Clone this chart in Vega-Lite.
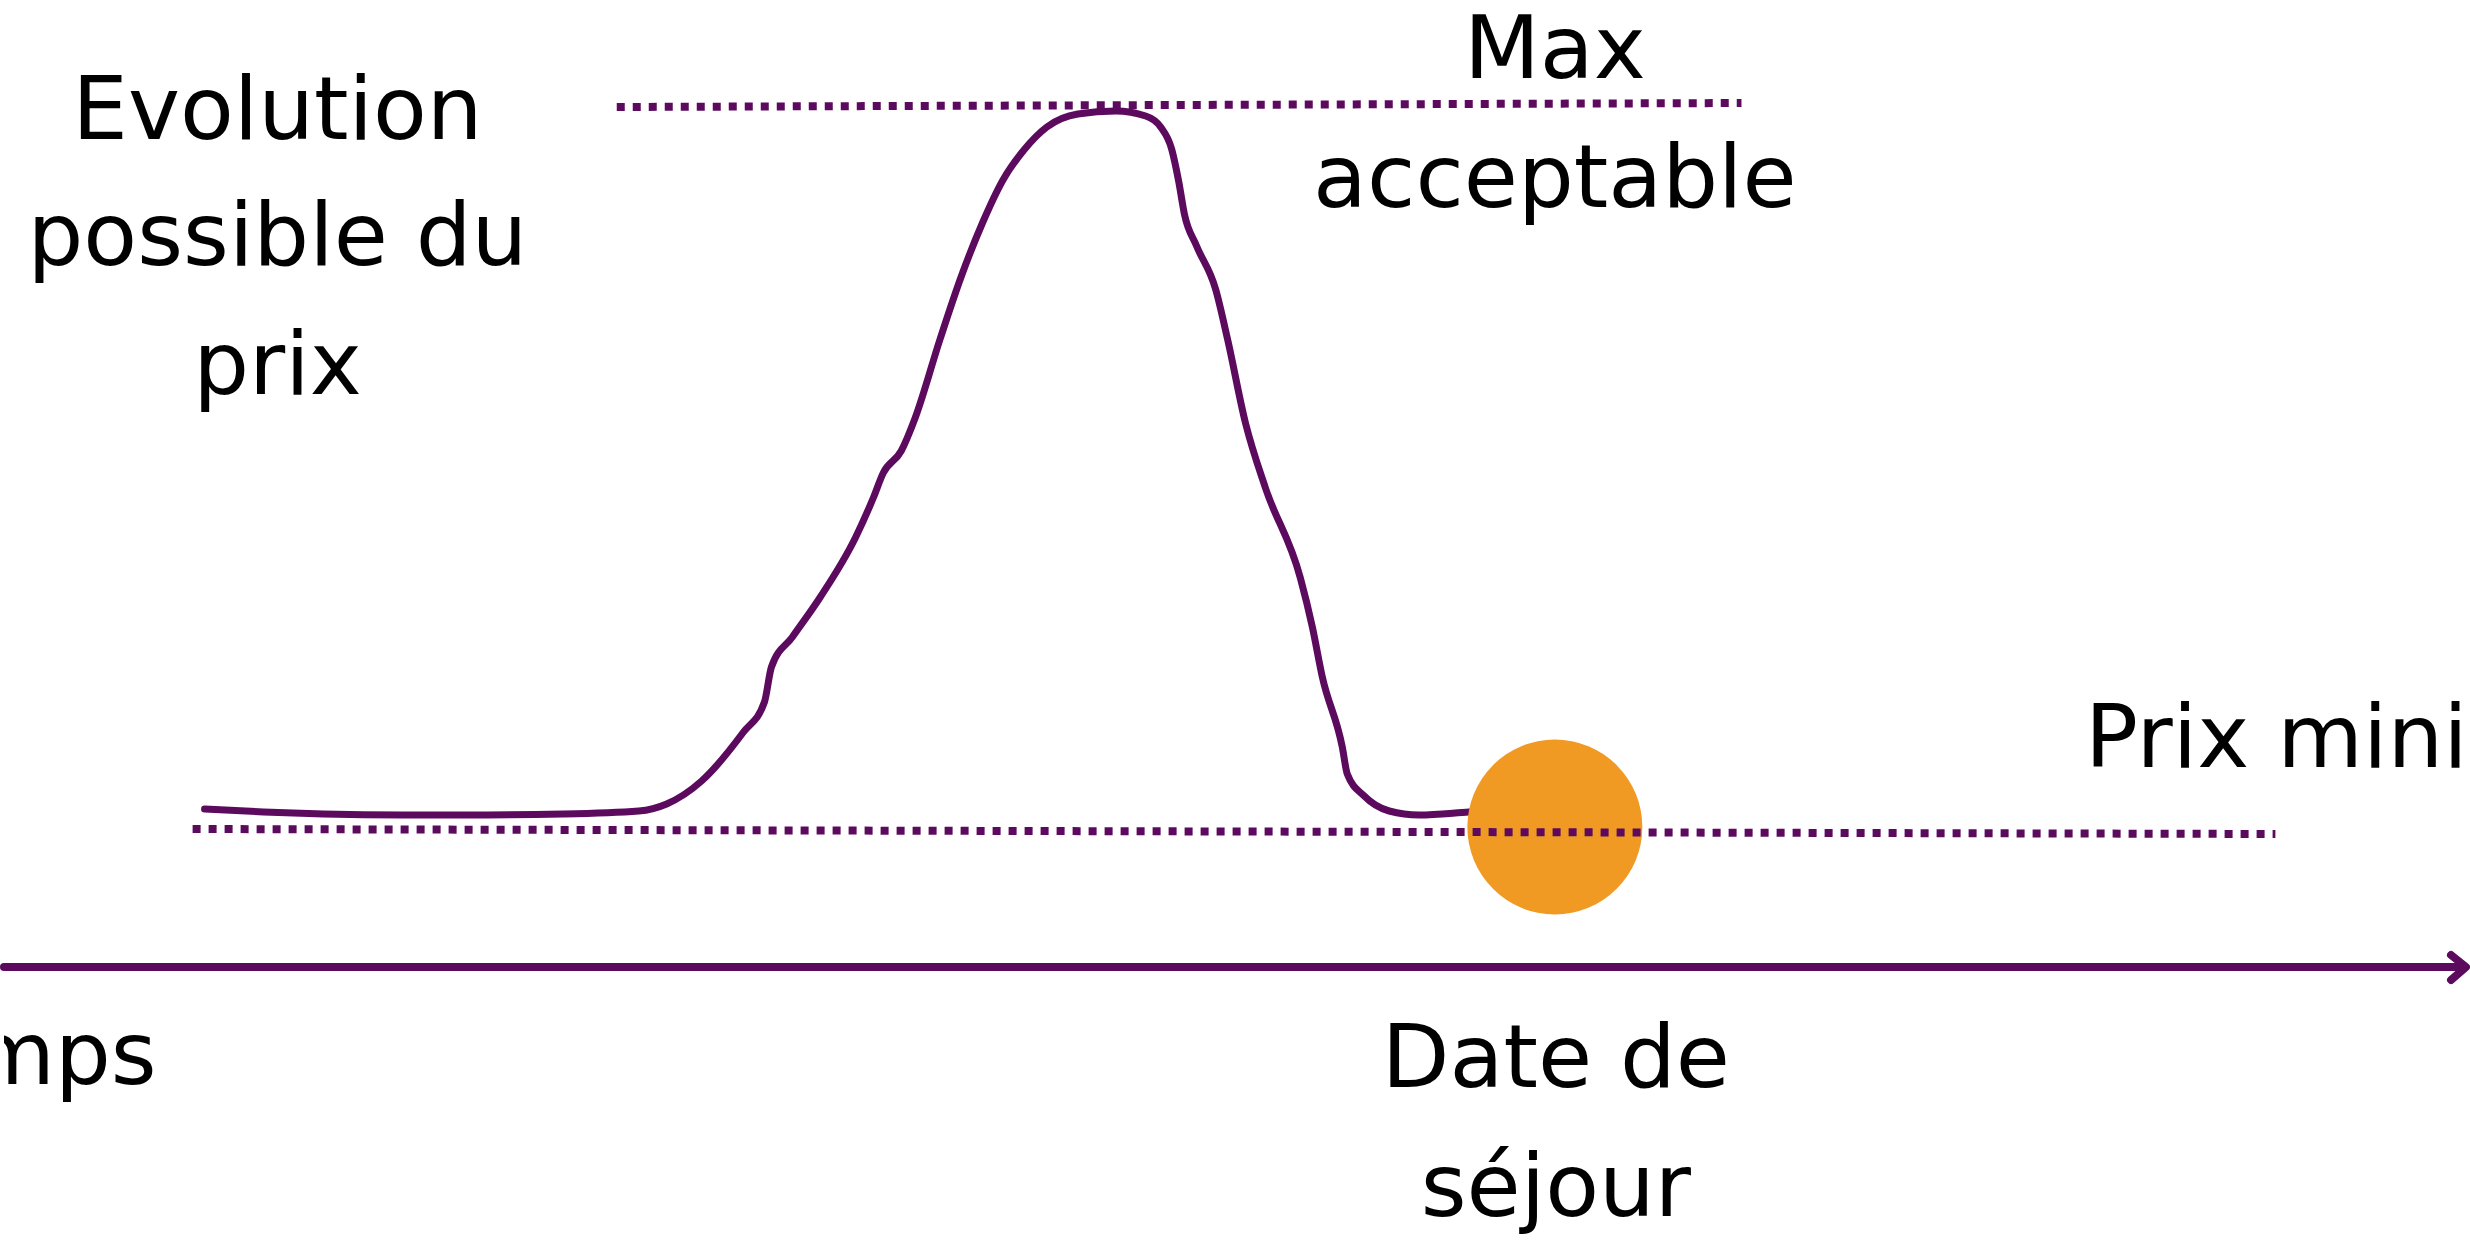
{
  "$schema": "https://vega.github.io/schema/vega-lite/v6.json",
  "width": 2470,
  "height": 1241,
  "padding": 0,
  "autosize": {"type": "fit", "contains": "padding"},
  "background": "white",
  "config": {"view": {"stroke": null}},
  "datasets": {
    "curve": [
      {"t": 20.1, "price": 43.2}, {"t": 26.0, "price": 42.9}, {"t": 32.0, "price": 42.7},
      {"t": 40.0, "price": 42.6}, {"t": 46.1, "price": 42.6}, {"t": 56.0, "price": 42.7},
      {"t": 63.6, "price": 43.0}, {"t": 66.4, "price": 43.7}, {"t": 69.9, "price": 46.0},
      {"t": 74.1, "price": 50.9}, {"t": 76.2, "price": 53.9}, {"t": 76.9, "price": 57.4},
      {"t": 79.0, "price": 60.4}, {"t": 81.8, "price": 64.4}, {"t": 85.3, "price": 70.3},
      {"t": 87.1, "price": 74.3}, {"t": 88.1, "price": 76.8}, {"t": 89.9, "price": 79.0},
      {"t": 91.3, "price": 82.3}, {"t": 93.8, "price": 90.2}, {"t": 95.9, "price": 96.4},
      {"t": 98.0, "price": 101.7}, {"t": 100.1, "price": 106.1}, {"t": 102.2, "price": 109.1},
      {"t": 104.5, "price": 111.4}, {"t": 107.6, "price": 112.7}, {"t": 111.4, "price": 113.0},
      {"t": 114.4, "price": 112.5}, {"t": 115.9, "price": 111.4}, {"t": 117.0, "price": 109.2},
      {"t": 117.7, "price": 106.0}, {"t": 118.3, "price": 102.6}, {"t": 119.5, "price": 99.5},
      {"t": 121.4, "price": 95.2}, {"t": 122.6, "price": 90.2}, {"t": 124.4, "price": 81.8},
      {"t": 126.4, "price": 75.3}, {"t": 129.9, "price": 66.3}, {"t": 131.1, "price": 61.4},
      {"t": 132.1, "price": 56.4}, {"t": 134.1, "price": 49.4}, {"t": 134.6, "price": 46.7},
      {"t": 136.3, "price": 44.5}, {"t": 138.8, "price": 43.0}, {"t": 141.8, "price": 42.6},
      {"t": 146.8, "price": 42.9}, {"t": 150.0, "price": 43.1}
    ],
    "guides": [
      {"line": "min", "t": 18.9, "price": 41.2},
      {"line": "min", "t": 227.6, "price": 40.7},
      {"line": "max", "t": 61.4, "price": 113.4},
      {"line": "max", "t": 174.1, "price": 113.8}
    ],
    "axisline": [
      {"part": "shaft", "k": 1, "t": 0, "price": 27.4},
      {"part": "shaft", "k": 2, "t": 246.4, "price": 27.4},
      {"part": "head", "k": 1, "t": 245.2, "price": 28.6},
      {"part": "head", "k": 2, "t": 246.7, "price": 27.4},
      {"part": "head", "k": 3, "t": 245.2, "price": 26.1}
    ],
    "stay": [
      {"label": "Date de séjour", "t": 155.4, "price": 41.4}
    ],
    "labels": [
      {"text": "Evolution", "t": 27.4, "price": 110.2},
      {"text": "possible du", "t": 27.4, "price": 97.6},
      {"text": "prix", "t": 27.4, "price": 84.7},
      {"text": "Max", "t": 155.4, "price": 116.3},
      {"text": "acceptable", "t": 155.4, "price": 103.4},
      {"text": "Prix mini", "t": 227.7, "price": 47.4},
      {"text": "Date de", "t": 155.5, "price": 15.4},
      {"text": "séjour", "t": 155.5, "price": 2.5}
    ],
    "axistitle": [
      {"text": "Temps", "t": 15.3, "price": 15.7}
    ]
  },
  "encoding": {
    "x": {"field": "t", "type": "quantitative", "axis": null, "scale": {"domain": [0, 247], "nice": false, "zero": false}},
    "y": {"field": "price", "type": "quantitative", "axis": null, "scale": {"domain": [0, 124.1], "nice": false, "zero": false}}
  },
  "layer": [
    {
      "data": {"name": "axisline"},
      "mark": {"type": "line", "color": "#5c0a5e", "strokeWidth": 8, "strokeCap": "round", "strokeJoin": "round"},
      "encoding": {
        "detail": {"field": "part", "type": "nominal"},
        "order": {"field": "k", "type": "quantitative"}
      }
    },
    {
      "data": {"name": "curve"},
      "mark": {"type": "line", "color": "#5c0a5e", "strokeWidth": 7, "interpolate": "monotone", "strokeCap": "round"},
      "encoding": {}
    },
    {
      "data": {"name": "stay"},
      "mark": {"type": "point", "shape": "circle", "filled": true, "opacity": 1, "color": "#f09a24", "size": 30625},
      "encoding": {}
    },
    {
      "data": {"name": "guides"},
      "mark": {"type": "line", "color": "#5c0a5e", "strokeWidth": 8, "strokeDash": [8, 8], "strokeCap": "butt"},
      "encoding": {"detail": {"field": "line", "type": "nominal"}}
    },
    {
      "data": {"name": "labels"},
      "mark": {"type": "text", "font": "DejaVu Sans", "fontSize": 88, "fontWeight": "normal", "color": "black", "align": "center", "baseline": "alphabetic"},
      "encoding": {
        "text": {"field": "text", "type": "nominal"}
      }
    },
    {
      "data": {"name": "axistitle"},
      "mark": {"type": "text", "font": "DejaVu Sans", "fontSize": 88, "fontWeight": "normal", "color": "black", "align": "right", "baseline": "alphabetic", "clip": true},
      "encoding": {
        "text": {"field": "text", "type": "nominal"}
      }
    }
  ]
}
